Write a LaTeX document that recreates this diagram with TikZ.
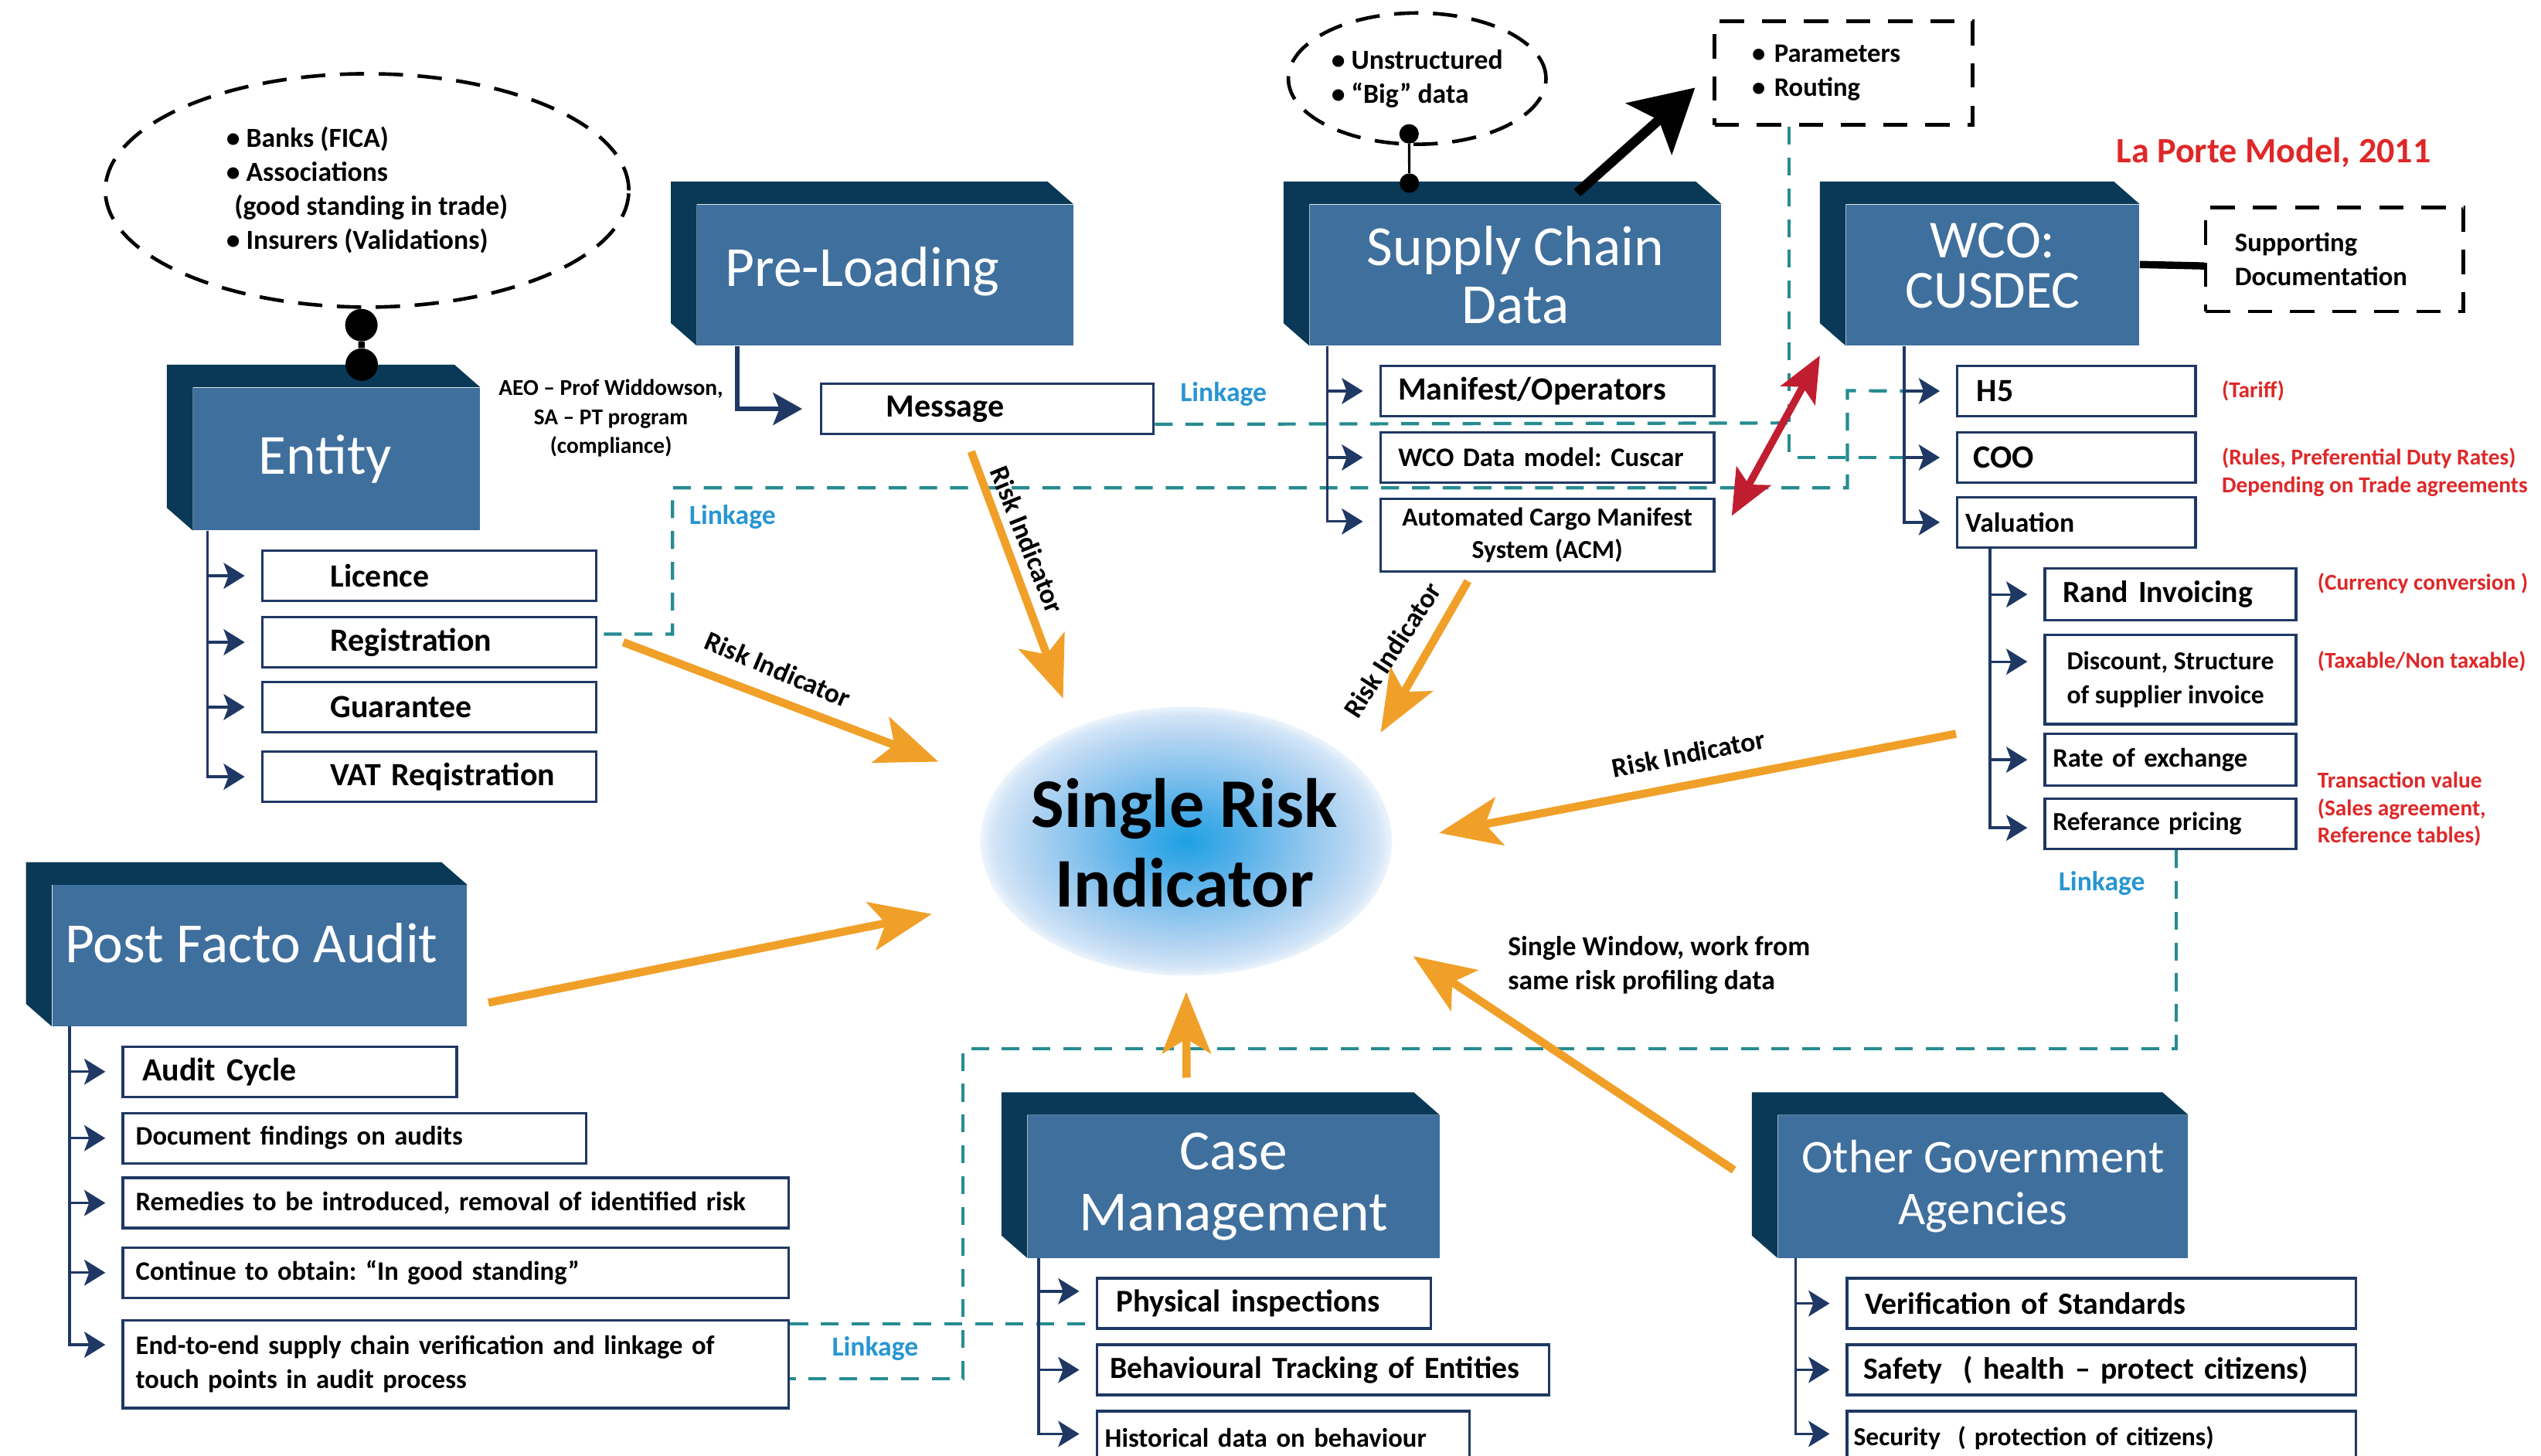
\documentclass[tikz,border=0pt]{standalone}
\usepackage{fontspec}
\setmainfont{Carlito}
\usepackage{tikz}
\usetikzlibrary{arrows.meta,shapes.geometric}
\usepackage{xcolor}

\definecolor{hubfront}{RGB}{63,111,157}
\definecolor{hubside}{RGB}{9,57,87}
\definecolor{navy}{RGB}{31,56,100}
\definecolor{riskorange}{RGB}{240,160,40}
\definecolor{linkteal}{RGB}{38,140,145}
\definecolor{linkblue}{RGB}{40,150,210}
\definecolor{noteRed}{RGB}{222,40,40}
\definecolor{swapred}{RGB}{192,30,48}

\pgfdeclareradialshading{srglow}{\pgfpoint{0bp}{0bp}}{%
  rgb(0bp)=(0.12,0.63,0.89);
  rgb(6bp)=(0.30,0.68,0.91);
  rgb(13bp)=(0.52,0.76,0.93);
  rgb(20bp)=(0.72,0.84,0.95);
  rgb(23.5bp)=(0.83,0.90,0.97);
  rgb(25bp)=(0.93,0.96,0.99);
  rgb(50bp)=(1,1,1)}

\begin{document}
\frenchspacing
\begin{tikzpicture}[x=1pt,y=-1pt,>={Stealth[length=13pt,width=16pt,inset=3pt]}]
\tikzset{
    hub/.style={%
        rectangle, fill=hubfront, text=white,
        anchor=north west, inner sep=0pt,
        align=center,
        font=\fontsize{35}{37}\selectfont
        },
    itembox/.style={%
        rectangle, draw=navy, line width=1.6pt, fill=white,
        anchor=north west, inner xsep=4pt, inner ysep=0pt,
        align=left
        },
    rowtext/.style n args={2}{%
        text width=#1-8pt,
        execute at begin node={\hspace*{#2}\hbox\bgroup},
        execute at end node={\egroup}
        },
    fsb/.style={font=\fontsize{#1}{24}\selectfont\bfseries},
    kidarrow/.style={draw=navy, line width=1.6pt, ->, shorten >=10pt},
    linkline/.style={draw=linkteal, line width=2pt, dash pattern=on 11pt off 8pt},
    linktext/.style={text=linkblue, font=\fontsize{17}{20}\selectfont\bfseries},
    riskarrow/.style={draw=riskorange, line width=5pt,
        -{Stealth[length=38pt,width=30pt,inset=9pt]}},
    risktext/.style={font=\fontsize{17}{20}\selectfont\bfseries},
    rednote/.style={text=noteRed, anchor=west, align=left,
        font=\fontsize{14}{17}\selectfont\bfseries},
    bubble/.style={%
        ellipse, draw, line width=2.2pt, dash pattern=on 15pt off 9pt,
        inner sep=0pt, align=left,
        font=\fontsize{17}{21}\selectfont\bfseries
        },
    dashbox/.style={%
        rectangle, draw, line width=2.2pt, dash pattern=on 15pt off 11pt,
        anchor=north west, inner ysep=0pt, align=left,
        font=\fontsize{16.5}{21}\selectfont\bfseries
        },
    knob/.style={circle, fill=black, inner sep=0pt, minimum size=#1},
}
\path[use as bounding box, fill=white] (0,0) rectangle (1568,898);

%%%SINGLE RISK INDICATOR
\shade[shading=srglow] (732,519) ellipse [x radius=127, y radius=83];
\node[align=center, font=\fontsize{43}{49}\selectfont\bfseries]
      (sri) at (731,520) {Single Risk\\Indicator};

%%%HUBS
\node[hub, minimum width=177pt, minimum height=88pt] (ent) at (119,239) {Entity\hspace*{14pt}};
\node[hub, minimum width=232pt, minimum height=87pt] (pre) at (430,126) {Pre-Loading\hspace*{28pt}\rule[-10pt]{0pt}{10pt}};
\node[hub, minimum width=254pt, minimum height=87pt, font=\fontsize{35}{36}\selectfont] (scd) at (808,126) {Supply Chain\\Data};
\node[hub, minimum width=181pt, minimum height=87pt, font=\fontsize{33}{31}\selectfont] (wco) at (1139,126) {WCO:\\CUSDEC\rule[-12pt]{0pt}{12pt}};
\node[hub, minimum width=256pt, minimum height=87pt] (pfa) at (32,546) {Post Facto Audit\hspace*{10pt}\rule[-16pt]{0pt}{16pt}};
\node[hub, minimum width=254pt, minimum height=88pt, font=\fontsize{35}{38}\selectfont] (cas) at (634,688) {Case\\Management};
\node[hub, minimum width=253pt, minimum height=88pt, font=\fontsize{29}{32}\selectfont] (oga) at (1097,688) {Other Government\\Agencies};
\foreach \h in {ent,pre,scd,wco,pfa,cas,oga}
  \fill[hubside] ([shift={(-16,-14)}]\h.north west) -- ([shift={(-16,-14)}]\h.north east)
     -- (\h.north east) -- (\h.north west) -- (\h.south west)
     -- ([shift={(-16,-14)}]\h.south west) -- cycle;

%%%BUBBLES AND NOTES
\node[bubble, minimum width=323pt, minimum height=144pt] (bnk) at (226.5,117.5)
  {• Banks (FICA)\\• Associations\\\hspace*{5pt}(good standing in trade)\\• Insurers (Validations)};
\node[bubble, minimum width=159pt, minimum height=81pt] (uns) at (874.5,48.5)
  {• Unstructured\\• “Big” data};
\node[dashbox, text width=113pt, inner xsep=23pt, minimum height=64pt] (prm) at (1057,12)
  {• Parameters\\• Routing};
\node[dashbox, text width=123pt, inner xsep=18pt, minimum height=64pt] (sup) at (1360,127)
  {Supporting\\Documentation};
\node[text=noteRed, font=\fontsize{22}{26}\selectfont\bfseries] (lpm) at (1403,94) {La Porte Model, 2011};
\node[align=center, font=\fontsize{14}{18}\selectfont\bfseries] (aeo) at (377,258)
  {AEO – Prof Widdowson,\\SA – PT program\\(compliance)};

%%%LINKAGE
\coordinate (lkA) at (1103,261);
\coordinate (lkB) at (415,301);
\coordinate (lkC) at (1140,241);
\coordinate (lkD) at (594,647);

%%%ENTITY
\node[itembox, rowtext={206pt}{38pt}, minimum height=31pt, fsb=20] (lic) at (161,339) {Licence};
\node[itembox, rowtext={206pt}{38pt}, minimum height=31pt, fsb=20] (reg) at (161,380) {Registration};
\node[itembox, rowtext={206pt}{38pt}, minimum height=31pt, fsb=20] (gua) at (161,420) {Guarantee};
\node[itembox, rowtext={206pt}{38pt}, minimum height=31pt, fsb=20] (vat) at (161,463) {VAT Reqistration};

%%%PRE-LOADING
\node[itembox, rowtext={205pt}{36pt}, minimum height=31pt, fsb=20] (msg) at (506,236) {Message};

%%%SUPPLY CHAIN DATA
\node[itembox, rowtext={206pt}{7pt}, minimum height=31pt, fsb=20] (man) at (851,225) {Manifest/Operators};
\node[itembox, rowtext={206pt}{7pt}, minimum height=31pt, fsb=16.5] (cus) at (851,266) {WCO Data model: Cuscar};
\node[itembox, align=center, minimum width=206pt, minimum height=45pt, font=\fontsize{16}{20}\selectfont\bfseries] (acm) at (851,307) {Automated Cargo Manifest\\System (ACM)};

%%%CUSDEC
\node[itembox, rowtext={147pt}{8pt}, minimum height=31pt, fsb=20] (h5) at (1207,225) {H5};
\node[itembox, rowtext={147pt}{6pt}, minimum height=31pt, fsb=20] (coo) at (1207,266) {COO};
\node[itembox, rowtext={147pt}{1pt}, minimum height=31pt, fsb=17] (val) at (1207,306) {Valuation};
\node[itembox, rowtext={155pt}{7pt}, minimum height=32pt, fsb=19] (rand) at (1261,350) {Rand Invoicing};
\node[itembox, minimum width=155pt, minimum height=55pt, font=\fontsize{16}{21}\selectfont\bfseries] (disc) at (1261,391) {Discount, Structure\\of supplier invoice};
\node[itembox, rowtext={155pt}{1pt}, minimum height=32pt, fsb=16.5] (rate) at (1261,452) {Rate of exchange};
\node[itembox, rowtext={155pt}{1pt}, minimum height=31pt, fsb=16] (refp) at (1261,492) {Referance pricing};
\node[rednote] (tar) at ([shift={(12,0)}]h5.east) {(Tariff)};
\node[rednote] (rul) at ([shift={(12,9)}]coo.east) {(Rules, Preferential Duty Rates)\\Depending on Trade agreements};
\node[rednote] (cur) at ([shift={(9,-7)}]rand.east) {(Currency conversion )};
\node[rednote] (tax) at ([shift={(9,-11)}]disc.east) {(Taxable/Non taxable)};
\node[rednote] (trv) at ([shift={(9,-9)}]refp.east) {Transaction value\\(Sales agreement,\\Reference tables)};

%%%POST FACTO AUDIT
\node[itembox, rowtext={206pt}{8pt}, minimum height=31pt, fsb=20] (cyc) at (75,645) {Audit Cycle};
\node[itembox, rowtext={286pt}{4pt}, minimum height=31pt, fsb=16.5] (docf) at (75,686) {Document findings on audits};
\node[itembox, rowtext={411pt}{4pt}, minimum height=31pt, fsb=16.5] (rem) at (75,726) {Remedies to be introduced, removal of identified risk};
\node[itembox, rowtext={411pt}{4pt}, minimum height=31pt, fsb=16.5] (cont) at (75,769) {Continue to obtain: “In good standing”};
\node[itembox, text width=395pt, inner xsep=8pt, minimum height=54pt, font=\fontsize{16.5}{21}\selectfont\bfseries] (e2e) at (75,814)
  {End-to-end supply chain verification and linkage of\\touch points in audit process};

%%%CASE MANAGEMENT
\node[itembox, rowtext={206pt}{8pt}, minimum height=31pt, fsb=19.5] (phy) at (676,788) {Physical inspections};
\node[itembox, rowtext={279pt}{4pt}, minimum height=31pt, fsb=19] (beh) at (676,829) {Behavioural Tracking of Entities};
\node[itembox, rowtext={230pt}{1pt}, minimum height=33pt, fsb=16.5] (his) at (676,870) {Historical data on behaviour};

%%%OTHER GOVERNMENT AGENCIES
\node[itembox, rowtext={314pt}{7pt}, minimum height=31pt, fsb=19] (ver) at (1139,788) {Verification of Standards};
\node[itembox, rowtext={314pt}{6pt}, minimum height=31pt, fsb=19] (saf) at (1139,829) {Safety\ \ ( health – protect citizens)};
\node[itembox, rowtext={314pt}{0pt}, minimum height=33pt, fsb=16] (sec) at (1139,870) {Security\ \ ( protection of citizens)};

%%%LINKAGE LINES
\draw[linkline] ([shift={(0,9.5)}]msg.east) -- (lkA);
\draw[linkline] ([shift={(-33.5,0)}]prm.south) |- ([shift={(-32,0)}]coo.west);
\draw[linkline] ([shift={(4,-5)}]reg.east) -| (lkB) -| (lkC) -- ([shift={(-32,0)}]h5.west);
\draw[linkline] ([shift={(3.5,0)}]refp.south) |- (lkD) |- ([shift={(0,9)}]e2e.east);
\draw[linkline] ([shift={(0,-25)}]e2e.east) -- ([shift={(0,12.5)}]phy.west);
\node[linktext] (lk1) at (755,243) {Linkage};
\node[linktext] (lk2) at (452,319) {Linkage};
\node[linktext] (lk3) at (1297,545) {Linkage};
\node[linktext] (lk4) at (540,832) {Linkage};

%%%TREE CONNECTORS
\draw[kidarrow] ([shift={(9,0)}]ent.south west) |- (lic.west);
\draw[kidarrow] ([shift={(9,0)}]ent.south west) |- (reg.west);
\draw[kidarrow] ([shift={(9,0)}]ent.south west) |- (gua.west);
\draw[kidarrow] ([shift={(9,0)}]ent.south west) |- (vat.west);
\draw[navy, line width=2.5pt, -{Stealth[length=18pt,width=20pt,inset=4pt]}, shorten >=11pt]
  ([shift={(25,0)}]pre.south west) |- (msg.west);
\draw[kidarrow] ([shift={(11,0)}]scd.south west) |- (man.west);
\draw[kidarrow] ([shift={(11,0)}]scd.south west) |- (cus.west);
\draw[kidarrow] ([shift={(11,0)}]scd.south west) |- ([shift={(0,-8.5)}]acm.west);
\draw[kidarrow] ([shift={(36,0)}]wco.south west) |- (h5.west);
\draw[kidarrow] ([shift={(36,0)}]wco.south west) |- (coo.west);
\draw[kidarrow] ([shift={(36,0)}]wco.south west) |- (val.west);
\draw[kidarrow] ([shift={(21,0)}]val.south west) |- (rand.west);
\draw[kidarrow] ([shift={(21,0)}]val.south west) |- ([shift={(0,-11)}]disc.west);
\draw[kidarrow] ([shift={(21,0)}]val.south west) |- (rate.west);
\draw[kidarrow] ([shift={(21,0)}]val.south west) |- ([shift={(0,2.5)}]refp.west);
\draw[kidarrow] ([shift={(11,0)}]pfa.south west) |- (cyc.west);
\draw[kidarrow] ([shift={(11,0)}]pfa.south west) |- (docf.west);
\draw[kidarrow] ([shift={(11,0)}]pfa.south west) |- (rem.west);
\draw[kidarrow] ([shift={(11,0)}]pfa.south west) |- (cont.west);
\draw[kidarrow] ([shift={(11,0)}]pfa.south west) |- ([shift={(0,-12)}]e2e.west);
\draw[kidarrow] ([shift={(7,0)}]cas.south west) |- ([shift={(0,-7.5)}]phy.west);
\draw[kidarrow] ([shift={(7,0)}]cas.south west) |- (beh.west);
\draw[kidarrow] ([shift={(7,0)}]cas.south west) |- ([shift={(0,-2.5)}]his.west);
\draw[kidarrow] ([shift={(11,0)}]oga.south west) |- (ver.west);
\draw[kidarrow] ([shift={(11,0)}]oga.south west) |- (saf.west);
\draw[kidarrow] ([shift={(11,0)}]oga.south west) |- ([shift={(0,-2.5)}]sec.west);

%%%KNOBS
\node[knob=20pt] (kA) at ([shift={(-3.5,10)}]bnk.south) {};
\node[knob=20pt] (kB) at ([shift={(15.5,-14)}]ent.north) {};
\draw[line width=4pt] (kA) -- (kB);
\node[knob=12pt] (kC) at ([shift={(-5,-7.5)}]uns.south) {};
\node[knob=12pt] (kD) at ([shift={(-65.5,-13)}]scd.north) {};
\draw[line width=1.5pt] (kC) -- (kD);
\draw[line width=4.5pt] ([shift={(0,-6.5)}]wco.east) -- ([shift={(0,4)}]sup.west);

%%%BIG ARROWS
\draw[line width=6pt, -{Stealth[length=38pt,width=42pt,inset=8pt]}]
  ([shift={(38,-7)}]scd.north) -- ([shift={(-11,9)}]prm.west);
\draw[swapred, line width=4.5pt,
  {Stealth[length=28pt,width=24pt,inset=6pt]}-{Stealth[length=28pt,width=24pt,inset=6pt]}]
  ([shift={(10,-12)}]acm.east) -- ([shift={(-16,6)}]wco.south west);

%%%RISK INDICATORS
\coordinate (tp1) at (579,470);
\coordinate (tp2) at (656,431);
\coordinate (tp3) at (852,452);
\coordinate (tp4) at (888,514);
\coordinate (tp5) at (575,564);
\coordinate (tp6) at (732,612);
\coordinate (tp7) at (872,590);
\draw[riskarrow] ([shift={(16,0)}]reg.east) -- (tp1);
\draw[riskarrow] ([shift={(-10,10)}]msg.south) -- (tp2);
\draw[riskarrow] ([shift={(-49,5)}]acm.south) -- (tp3);
\draw[riskarrow] ([shift={(-54,-16)}]rate.west) -- (tp4);
\draw[riskarrow] ([shift={(13,29)}]pfa.east) -- (tp5);
\draw[riskarrow] ([shift={(-29,-23)}]cas.north) -- (tp6);
\draw[riskarrow] ([shift={(-27,34)}]oga.north west) -- (tp7);
\node[risktext, rotate=-23] (ri1) at (480,413) {Risk Indicator};
\node[risktext, rotate=-68] (ri2) at (634,333) {Risk Indicator};
\node[risktext, rotate=57] (ri3) at (859,401) {Risk Indicator};
\node[risktext, rotate=11] (ri4) at (1042,465) {Risk Indicator};
\node[anchor=west, align=left, font=\fontsize{17}{21}\selectfont\bfseries] (swn) at (927,595.5)
  {Single Window, work from\\same risk profiling data};
\end{tikzpicture}
\end{document}
